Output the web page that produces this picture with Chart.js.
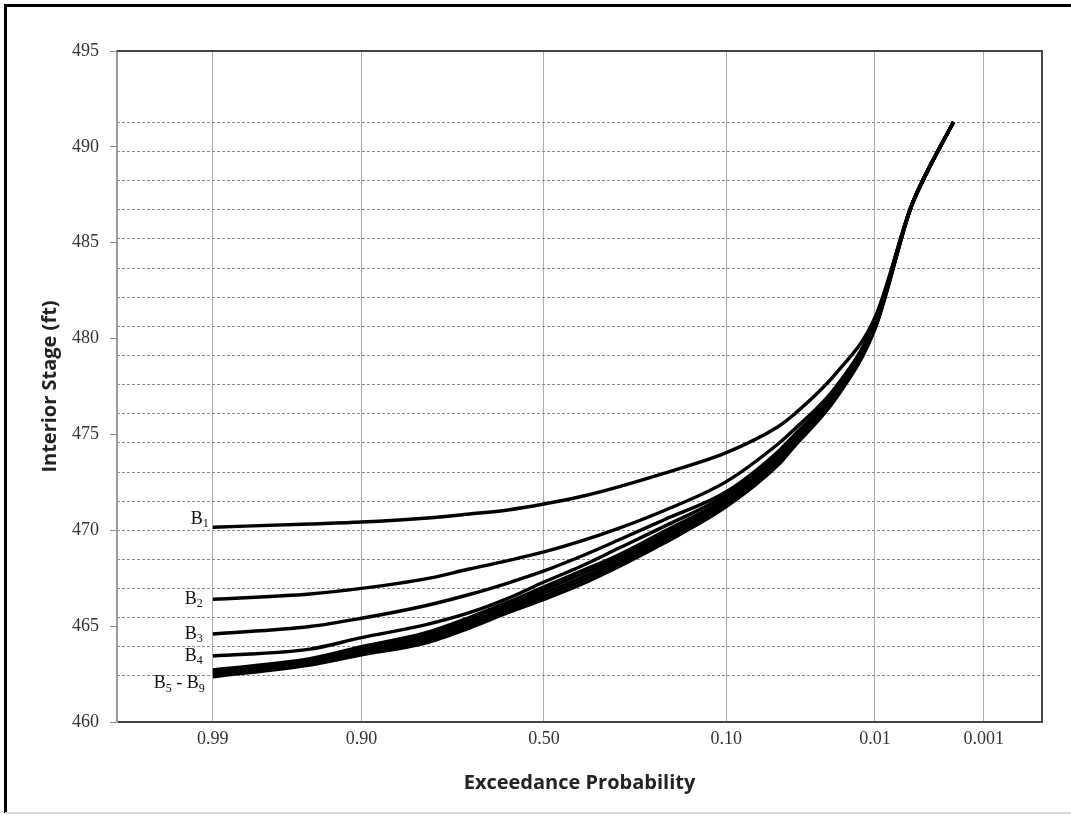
<!DOCTYPE html>
<html>
<head>
<meta charset="utf-8">
<script src="https://cdn.jsdelivr.net/npm/chart.js@4.4.1/dist/chart.umd.min.js"></script>
<style>
  html, body { margin: 0; padding: 0; background: #fff; }
  #wrap { width: 1071px; height: 821px; }
</style>
</head>
<body>
<div id="wrap"><canvas id="chart" width="1071" height="821"></canvas></div>
<script>
/* Interior stage vs exceedance probability, B1..B9 (normal probability x axis) */

// ── Data ───────────────────────────────────────────────────────
const PROBS = [0.99, 0.95, 0.9, 0.8, 0.7, 0.6, 0.5, 0.4, 0.3, 0.2, 0.1, 0.05, 0.04, 0.02, 0.01, 0.005, 0.004, 0.002];

const B1 = [470.16, 470.33, 470.43, 470.63, 470.85, 471.06, 471.37, 471.75, 472.27, 472.97, 474.05, 475.40, 476.00, 478.20, 481.10, 486.80, 488.10, 491.30];
const B2 = [466.40, 466.68, 466.97, 467.45, 467.98, 468.42, 468.87, 469.42, 470.10, 471.02, 472.54, 474.50, 475.20, 477.50, 480.90, 486.80, 488.10, 491.30];
const B3 = [464.59, 464.98, 465.41, 466.05, 466.65, 467.25, 467.88, 468.62, 469.49, 470.54, 472.01, 474.10, 474.90, 477.35, 480.80, 486.80, 488.10, 491.30];
const B4 = [463.44, 463.80, 464.40, 465.05, 465.70, 466.45, 467.30, 468.10, 469.06, 470.19, 471.84, 473.90, 474.70, 477.25, 480.75, 486.80, 488.10, 491.30];
const B5 = [462.72, 463.30, 463.93, 464.63, 465.45, 466.25, 467.05, 467.85, 468.71, 469.93, 471.67, 473.80, 474.60, 477.20, 480.70, 486.80, 488.10, 491.30];
const B6 = [462.62, 463.22, 463.82, 464.50, 465.31, 466.11, 466.89, 467.68, 468.56, 469.78, 471.56, 473.70, 474.52, 477.12, 480.65, 486.79, 488.09, 491.30];
const B7 = [462.54, 463.13, 463.71, 464.37, 465.17, 465.97, 466.72, 467.50, 468.40, 469.62, 471.45, 473.60, 474.45, 477.05, 480.60, 486.78, 488.08, 491.30];
const B8 = [462.45, 463.05, 463.61, 464.23, 465.03, 465.83, 466.56, 467.33, 468.25, 469.47, 471.34, 473.50, 474.37, 476.97, 480.55, 486.76, 488.06, 491.30];
const B9 = [462.36, 462.97, 463.50, 464.10, 464.90, 465.70, 466.40, 467.15, 468.10, 469.32, 471.23, 473.40, 474.30, 476.90, 480.50, 486.75, 488.05, 491.30];

const SERIES = [B1, B2, B3, B4, B5, B6, B7, B8, B9];

const X_TICK_PROBS  = [0.99, 0.9, 0.5, 0.1, 0.01, 0.001];
const X_TICK_LABELS = ['0.99', '0.90', '0.50', '0.10', '0.01', '0.001'];

// curve labels: [text, subscript?] parts, anchored to a series' first point
const LABEL_PARTS  = [
  [['B', 0], ['1', 1]],
  [['B', 0], ['2', 1]],
  [['B', 0], ['3', 1]],
  [['B', 0], ['4', 1]],
  [['B', 0], ['5', 1], [' - B', 0], ['9', 1]],
];
const LABEL_ANCHOR = [0, 1, 2, 3, 8];

// dotted secondary gridlines
const DASH_START = 462.4, DASH_STEP = 1.52, DASH_COUNT = 20;

// ── Helpers ────────────────────────────────────────────────────

// inverse standard normal CDF (Acklam)
function normInv(p) {
  const a = [-3.969683028665376e+01, 2.209460984245205e+02, -2.759285104469687e+02, 1.383577518672690e+02, -3.066479806614716e+01, 2.506628277459239e+00];
  const b = [-5.447609879822406e+01, 1.615858368580409e+02, -1.556989798598866e+02, 6.680131188771972e+01, -1.328068155288572e+01];
  const c = [-7.784894002430293e-03, -3.223964580411365e-01, -2.400758277161838e+00, -2.549732539343734e+00, 4.374664141464968e+00, 2.938163982698783e+00];
  const d = [7.784695709041462e-03, 3.224671290700398e-01, 2.445134137142996e+00, 3.754408661907416e+00];
  const pl = 0.02425;
  let q, r;
  if (p < pl) {
    q = Math.sqrt(-2 * Math.log(p));
    return (((((c[0]*q+c[1])*q+c[2])*q+c[3])*q+c[4])*q+c[5]) / ((((d[0]*q+d[1])*q+d[2])*q+d[3])*q+1);
  }
  if (p <= 1 - pl) {
    q = p - 0.5; r = q * q;
    return (((((a[0]*r+a[1])*r+a[2])*r+a[3])*r+a[4])*r+a[5])*q / (((((b[0]*r+b[1])*r+b[2])*r+b[3])*r+b[4])*r+1);
  }
  q = Math.sqrt(-2 * Math.log(1 - p));
  return -(((((c[0]*q+c[1])*q+c[2])*q+c[3])*q+c[4])*q+c[5]) / ((((d[0]*q+d[1])*q+d[2])*q+d[3])*q+1);
}
const zOf = p => normInv(1 - p);   // exceedance prob -> normal deviate

const dashTicks = [];
for (let i = 0; i < DASH_COUNT; i++) dashTicks.push({ value: DASH_START + i * DASH_STEP });

// ── Plugins ────────────────────────────────────────────────────

const frame = {
  id: 'frame',
  beforeDraw(chart) {
    const { ctx, width, height } = chart;
    ctx.save();
    ctx.fillStyle = '#fff';
    ctx.fillRect(0, 0, width, height);
    ctx.strokeStyle = '#000';
    ctx.lineWidth = 3;
    ctx.beginPath();
    ctx.moveTo(5.5, height - 8);
    ctx.lineTo(5.5, 5.5);
    ctx.lineTo(width, 5.5);
    ctx.stroke();
    ctx.strokeStyle = '#d8d8d8';
    ctx.lineWidth = 2;
    ctx.beginPath();
    ctx.moveTo(5, height - 8);
    ctx.lineTo(width, height - 8);
    ctx.stroke();
    ctx.restore();
  },
  afterDatasetsDraw(chart) {
    const { ctx, chartArea: a } = chart;
    ctx.save();
    ctx.strokeStyle = '#444';
    ctx.lineWidth = 2;
    ctx.beginPath();
    ctx.moveTo(a.left, a.top);
    ctx.lineTo(a.right, a.top);
    ctx.lineTo(a.right, a.bottom);
    ctx.stroke();
    ctx.restore();
  },
};

const curveLabels = {
  id: 'curveLabels',
  afterDatasetsDraw(chart) {
    const { ctx, scales: { x, y } } = chart;
    const dy = [-8, 0, 0, 0, 7];
    const dx = [6, 0, 0, 0, 2];
    const main = '18px "Liberation Serif"', sub = '12px "Liberation Serif"';
    ctx.save();
    ctx.fillStyle = '#111';
    ctx.textBaseline = 'middle';
    ctx.textAlign = 'left';
    LABEL_PARTS.forEach((parts, i) => {
      const yy = y.getPixelForValue(SERIES[LABEL_ANCHOR[i]][0]) + dy[i];
      let w = 0;
      parts.forEach(([t, s]) => { ctx.font = s ? sub : main; w += ctx.measureText(t).width; });
      let xx = x.getPixelForValue(zOf(PROBS[0])) - 10 + dx[i] - w;
      parts.forEach(([t, s]) => {
        ctx.font = s ? sub : main;
        ctx.fillText(t, xx, s ? yy + 5 : yy);
        xx += ctx.measureText(t).width;
      });
    });
    ctx.restore();
  },
};

// ── Chart ──────────────────────────────────────────────────────

const datasets = SERIES.map((s, i) => ({
  label: 'B' + (i + 1),
  data: PROBS.map((p, j) => ({ x: zOf(p), y: s[j] })),
  borderColor: '#000',
  backgroundColor: '#000',
  borderWidth: 3.4,
  pointRadius: 0,
  cubicInterpolationMode: 'monotone',
  yAxisID: 'y',
}));

new Chart(document.getElementById('chart'), {
  type: 'line',
  data: { datasets },
  plugins: [frame, curveLabels],
  options: {
    responsive: false,
    devicePixelRatio: 1,
    animation: false,
    layout: { padding: { top: 51, right: 29, bottom: 0, left: 0 } },
    plugins: { legend: { display: false }, tooltip: { enabled: false } },
    scales: {
      x: {
        type: 'linear',
        min: -3,
        max: 3.5,
        afterBuildTicks: s => { s.ticks = X_TICK_PROBS.map(p => ({ value: zOf(p) })); },
        afterFit: s => { s.height = 99; },
        ticks: {
          autoSkip: false, maxRotation: 0, padding: 6,
          color: '#333', font: { family: 'Liberation Serif', size: 18 },
          callback: (v, i) => X_TICK_LABELS[i],
        },
        grid: { color: '#aaaaaa', lineWidth: 1, drawTicks: false },
        border: { color: '#444', width: 2 },
        title: {
          display: true, text: 'Exceedance Probability', color: '#222',
          font: { family: 'Open Sans', size: 20, weight: 'bold' },
          padding: { top: 0, bottom: 26 },
        },
      },
      y: {
        type: 'linear',
        min: 460,
        max: 495,
        afterFit: s => { s.width = 117; },
        ticks: {
          stepSize: 5, padding: 11,
          color: '#333', font: { family: 'Liberation Serif', size: 18 },
        },
        grid: { drawOnChartArea: false, drawTicks: true, tickLength: 7, tickColor: '#888' },
        border: { color: '#999', width: 2 },
        title: {
          display: true, text: 'Interior Stage (ft)', color: '#222',
          font: { family: 'Open Sans', size: 20, weight: 'bold' },
          padding: { top: 38, bottom: 0 },
        },
      },
      yDash: {
        type: 'linear',
        position: 'right',
        min: 460,
        max: 495,
        afterBuildTicks: s => { s.ticks = dashTicks.map(t => ({ value: t.value })); },
        afterFit: s => { s.width = 0; },
        ticks: { display: false },
        grid: { color: '#8c8c8c', lineWidth: 1, drawTicks: false },
        border: { display: false, dash: [3, 2] },
      },
    },
  },
});
</script>
</body>
</html>
